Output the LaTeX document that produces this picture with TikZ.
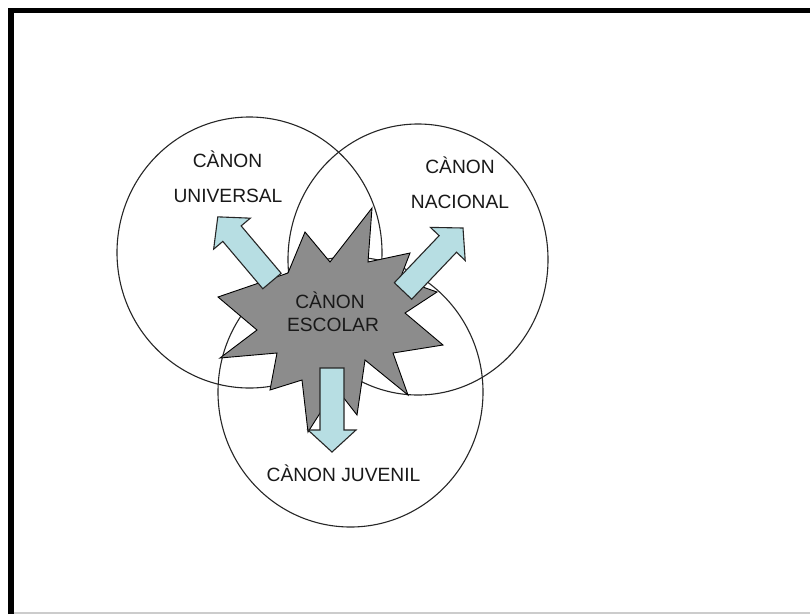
\documentclass[tikz,border=0pt]{standalone}
\usepackage{fontspec}
\setmainfont{Liberation Sans}
\definecolor{arrowblue}{RGB}{183,222,227}
\definecolor{stargray}{RGB}{140,140,140}
\newcommand\blockarrow[3]{% base, angle, length
  \begin{scope}[shift={#1}, rotate=#2]
    \draw[arrowstyle] (0,12) -- ({#3-22},12) -- ({#3-22},24) -- (#3,0)
      -- ({#3-22},-24) -- ({#3-22},-12) -- (0,-12) -- cycle;
  \end{scope}}
\begin{document}
\begin{tikzpicture}[x=1pt,y=-1pt,
  circ/.style={draw=black!85, line width=1.1pt},
  starstyle/.style={draw=black, fill=stargray, line width=0.9pt, line join=miter},
  arrowstyle/.style={draw=black!85, fill=arrowblue, line width=1.1pt, line join=miter},
  lbl/.style={inner sep=0pt, text height=13.5pt, text depth=0pt,
    font=\fontsize{19.2}{23}\selectfont, text=black!90}]
\useasboundingbox (0,0) rectangle (810,614);
\fill[white] (0,0) rectangle (810,614);
% frame
\draw[black, line width=5.5pt] (10.8,614) -- (10.8,10.3) -- (810,10.3);
\draw[black!20, line width=1.5pt] (13.5,612.8) -- (810,612.8);
% circles
\coordinate (cu) at (249.5,252.5);
\coordinate (cn) at (418,259.5);
\coordinate (cj) at (350.5,392);
\draw[circ] (cu) ellipse [x radius=132.5pt, y radius=135.5pt];
\draw[circ] (cn) ellipse [x radius=130pt, y radius=135.5pt];
\draw[circ] (cj) ellipse [x radius=132.5pt, y radius=135pt];
% star
\draw[starstyle] (218,297) -- (288,273) -- (305,232) -- (330,262) -- (372,208)
  -- (368,262) -- (410,253) -- (400,279) -- (437,292) -- (405,313) -- (443,345)
  -- (393,353) -- (408,395) -- (365,360) -- (357,415) -- (336,388) -- (308,432)
  -- (302,380) -- (270,390) -- (277,353) -- (220,358) -- (257,330) -- cycle;
% arrows
\blockarrow{(272,281)}{130.2}{84}
\blockarrow{(403,291)}{46.4}{87}
\blockarrow{(332,368)}{-90}{84}
% labels
\node[lbl] (uni1) at (227.5,161) {CÀNON};
\node[lbl] (uni2) at (228,195.5) {UNIVERSAL};
\node[lbl] (nac1) at (460,167) {CÀNON};
\node[lbl] (nac2) at (460,201.5) {NACIONAL};
\node[lbl] (esc1) at (330,301.5) {CÀNON};
\node[lbl] (esc2) at (333,325) {ESCOLAR};
\node[lbl] (juv) at (343.5,475) {CÀNON JUVENIL};
\end{tikzpicture}
\end{document}
